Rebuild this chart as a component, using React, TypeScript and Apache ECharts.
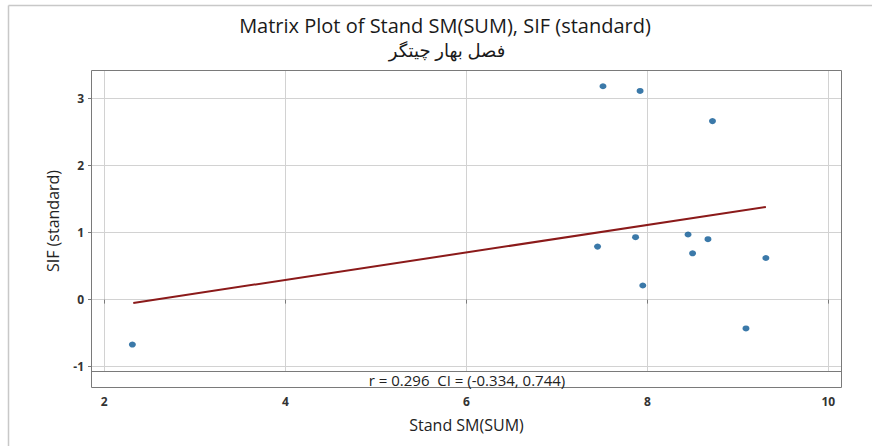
import React, { useEffect, useRef } from "react";
import * as echarts from "echarts";

const standSM: number[] = [7.51, 7.92, 8.72, 7.45, 7.87, 8.45, 8.67, 8.5, 9.31, 7.95, 9.09, 2.31];
const sifStd: number[] = [3.18, 3.11, 2.66, 0.79, 0.93, 0.97, 0.9, 0.69, 0.62, 0.21, -0.43, -0.67];
const fitX: number[] = [2.32, 9.31];
const fitY: number[] = [-0.05, 1.38];
const xTicks: number[] = [2, 4, 6, 8, 10];
const yTicks: number[] = [-1, 0, 1, 2, 3];

const titleText = "Matrix Plot of Stand SM(SUM), SIF (standard)";
const subtitleText = "فصل بهار چیتگر";
const annotText = "r = 0.296  CI = (-0.334, 0.744)";
const xName = "Stand SM(SUM)";
const yName = "SIF (standard)";

const FONT = "'Open Sans', 'DejaVu Sans', sans-serif";

export default function App() {
  const ref = useRef<HTMLDivElement>(null);
  useEffect(() => {
    if (!ref.current) return;
    const chart = echarts.init(ref.current, null, { renderer: "svg" });
    const frame = "#7a7a7a";
    chart.setOption({
      animation: false,
      backgroundColor: "#ffffff",
      grid: { left: 92, right: 31, top: 71, bottom: 75, show: false },
      xAxis: {
        type: "value",
        min: 1.864,
        max: 10.14,
        offset: 17,
        name: xName,
        nameLocation: "middle",
        nameGap: 29,
        nameTextStyle: { fontFamily: FONT, fontSize: 16, color: "#222" },
        axisLine: { show: false },
        axisTick: { show: true, length: 4, customValues: xTicks, lineStyle: { color: frame } },
        axisLabel: { customValues: xTicks, margin: 7, fontFamily: FONT, fontSize: 12, fontWeight: "bold", color: "#333" },
        splitLine: { show: true, lineStyle: { color: "#d2d2d2", width: 1 } },
      },
      yAxis: {
        type: "value",
        min: -1.064,
        max: 3.407,
        name: yName,
        nameLocation: "middle",
        nameGap: 31,
        nameRotate: 90,
        nameTextStyle: { fontFamily: FONT, fontSize: 16, color: "#222" },
        axisLine: { show: false },
        axisTick: { show: true, length: 4, customValues: yTicks, lineStyle: { color: frame } },
        axisLabel: { customValues: yTicks, margin: 8, fontFamily: FONT, fontSize: 12, fontWeight: "bold", color: "#333" },
        splitLine: { show: true, lineStyle: { color: "#d2d2d2", width: 1 } },
      },
      series: [
        {
          type: "line",
          data: fitX.map((x, i) => [x, fitY[i]]),
          symbol: "none",
          lineStyle: { color: "#8b1a1a", width: 2 },
          z: 3,
        },
        {
          type: "scatter",
          data: standSM.map((x, i) => [x, sifStd[i]]),
          symbol: "circle",
          symbolSize: [7, 6],
          itemStyle: { color: "#0a5893" },
          z: 4,
        },
      ],
      graphic: [
        { type: "line", shape: { x1: 8.5, y1: 5.5, x2: 872, y2: 5.5 }, style: { stroke: "#c8c8c8", lineWidth: 1.5 } },
        { type: "line", shape: { x1: 8.5, y1: 5.5, x2: 8.5, y2: 446 }, style: { stroke: "#c8c8c8", lineWidth: 1.5 } },
        { type: "rect", shape: { x: 91.5, y: 70.5, width: 750, height: 317 }, style: { fill: "none", stroke: frame, lineWidth: 1 }, z: 10 },
        { type: "line", shape: { x1: 91.5, y1: 371.5, x2: 841.5, y2: 371.5 }, style: { stroke: frame, lineWidth: 1 }, z: 10 },
        { type: "text", x: 467, y: 380, style: { text: annotText, fontFamily: FONT, fontSize: 15, fill: "#222", textAlign: "center", textVerticalAlign: "middle" }, z: 10 },
        { type: "text", x: 445, y: 25, style: { text: titleText, fontFamily: FONT, fontSize: 20, fill: "#1a1a1a", textAlign: "center", textVerticalAlign: "middle" } },
        { type: "text", x: 447, y: 50, style: { text: subtitleText, fontFamily: FONT, fontSize: 18, fill: "#1a1a1a", textAlign: "center", textVerticalAlign: "middle" } },
      ],
    });
    return () => chart.dispose();
  }, []);
  return <div ref={ref} style={{ position: "fixed", left: 0, top: 0, width: 872, height: 446 }} />;
}
